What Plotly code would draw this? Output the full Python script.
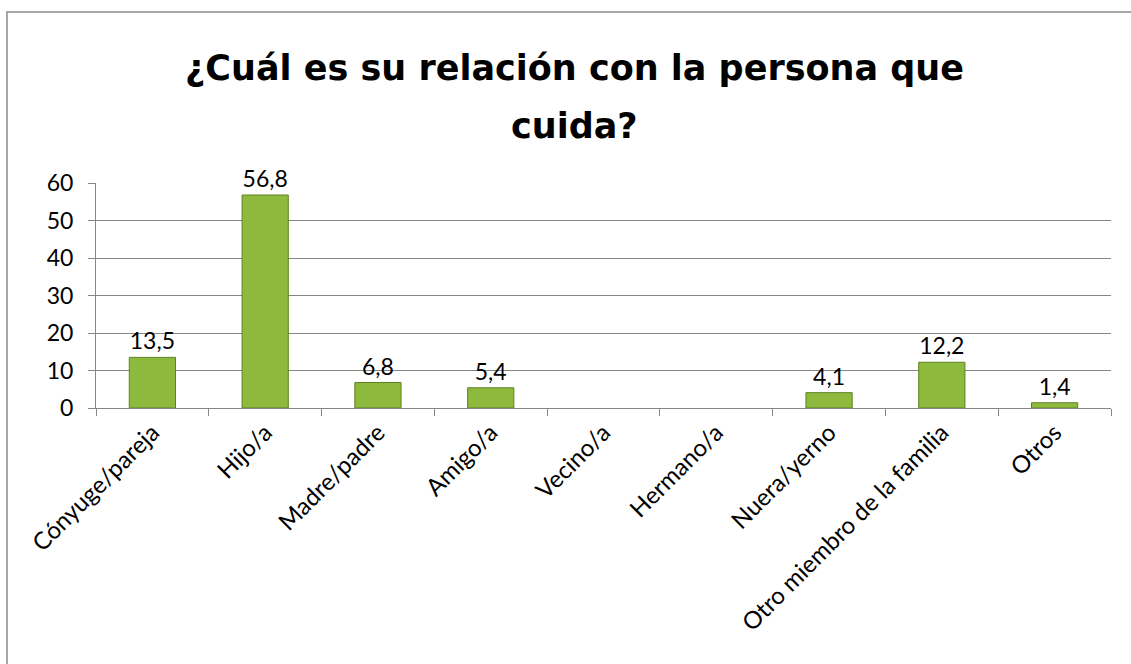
import plotly.graph_objects as go

categories = ["Cónyuge/pareja", "Hijo/a", "Madre/padre", "Amigo/a", "Vecino/a",
              "Hermano/a", "Nuera/yerno", "Otro miembro de la familia", "Otros"]
values = [13.5, 56.8, 6.8, 5.4, None, None, 4.1, 12.2, 1.4]
y_ticks = [0, 10, 20, 30, 40, 50, 60]
title_line1 = "¿Cuál es su relación con la persona que"
title_line2 = "cuida?"

W, H = 1131, 664
L, R, T, B = 96, 20, 183, 256
pw, ph = W - L - R, H - T - B
FONT = "Lato"
TITLE_FONT = "DejaVu Sans"

def px_x(p):
    return (p - L) / pw

def px_y(p):
    return (H - B - p) / ph

fig = go.Figure()
fig.add_trace(go.Bar(
    x=categories, y=values, width=0.41,
    marker=dict(color="#8dba3c", line=dict(color="#5f8224", width=1)),
    texttemplate="%{y:.1f}", textposition="outside",
    textfont=dict(family=FONT, size=23, color="#000000"),
    cliponaxis=False,
))

fig.update_layout(
    width=W, height=H,
    margin=dict(l=L, r=R, t=T, b=B),
    paper_bgcolor="white", plot_bgcolor="white",
    separators=",.",
    showlegend=False,
    font=dict(family=FONT, color="#000000"),
    xaxis=dict(
        type="category", tickangle=-45, tickson="boundaries",
        ticks="outside", ticklen=7, tickcolor="#868686",
        showline=True, linecolor="#868686", linewidth=1,
        tickfont=dict(family=FONT, size=24, color="#000000"),
        showgrid=False,
    ),
    yaxis=dict(
        range=[0, 60], tickvals=y_ticks, ticks="outside", ticklen=7,
        tickcolor="#868686", showline=True, linecolor="#868686", linewidth=1,
        gridcolor="#868686", gridwidth=1, zeroline=False,
        ticklabelstandoff=10,
        tickfont=dict(family=FONT, size=23, color="#000000"),
    ),
    annotations=[
        dict(text=f"<b>{title_line1}</b>", xref="paper", yref="paper",
             x=px_x(574), y=px_y(68), xanchor="center", yanchor="middle",
             showarrow=False, font=dict(family=TITLE_FONT, size=35, color="#000000")),
        dict(text=f"<b>{title_line2}</b>", xref="paper", yref="paper",
             x=px_x(574), y=px_y(126), xanchor="center", yanchor="middle",
             showarrow=False, font=dict(family=TITLE_FONT, size=35, color="#000000")),
    ],
    shapes=[
        dict(type="rect", xref="paper", yref="paper",
             x0=px_x(7), x1=px_x(1140), y0=px_y(12), y1=px_y(680),
             line=dict(color="#8c8c8c", width=1.5), fillcolor="rgba(0,0,0,0)", layer="below"),
    ],
)

fig.write_html("out.html", config={"displayModeBar": False},
               post_script="document.body.style.margin='0px';document.body.style.padding='0px';")
